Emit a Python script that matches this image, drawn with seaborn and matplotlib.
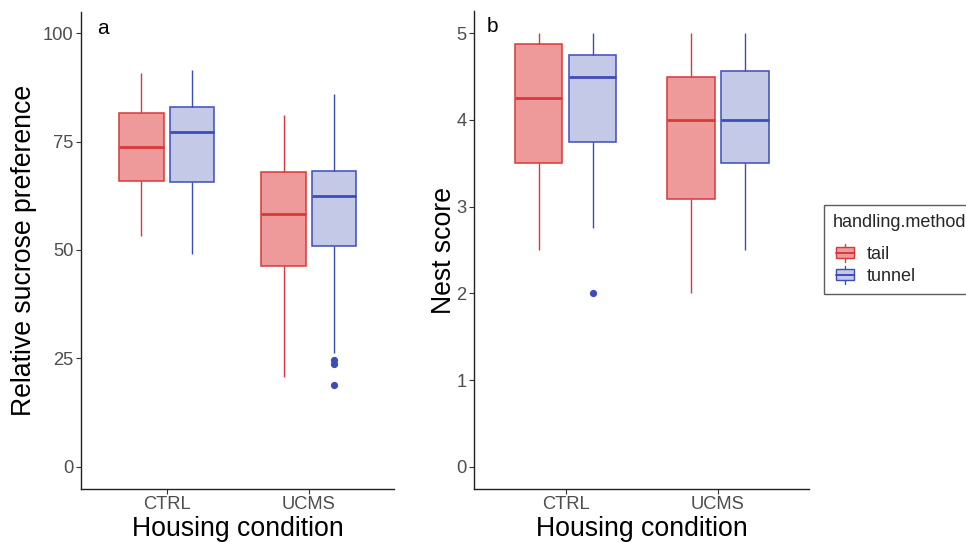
import numpy as np
import pandas as pd
import matplotlib
matplotlib.use("Agg")
import matplotlib.pyplot as plt
from matplotlib.legend_handler import HandlerBase
from matplotlib.patches import Rectangle
from matplotlib.lines import Line2D
import seaborn as sns

# ---- data: box summaries per group (CTRL-tail, CTRL-tunnel, UCMS-tail, UCMS-tunnel)
housing = ["CTRL", "CTRL", "UCMS", "UCMS"]
method = ["tail", "tunnel", "tail", "tunnel"]
housing_levels = ["CTRL", "UCMS"]
method_levels = ["tail", "tunnel"]

sucrose_whislo = [53.3, 49.0, 20.8, 26.3]
sucrose_q1 = [65.9, 65.6, 46.2, 50.9]
sucrose_median = [73.8, 77.2, 58.3, 62.4]
sucrose_q3 = [81.7, 82.9, 68.0, 68.2]
sucrose_whishi = [90.8, 91.5, 81.2, 86.0]
sucrose_outliers = [[], [], [], [24.7, 23.7, 18.9]]

nest_whislo = [2.5, 2.75, 2.0, 2.5]
nest_q1 = [3.5, 3.75, 3.09, 3.5]
nest_median = [4.25, 4.5, 4.0, 4.0]
nest_q3 = [4.875, 4.75, 4.5, 4.5625]
nest_whishi = [5.0, 5.0, 5.0, 5.0]
nest_outliers = [[], [2.0], [], []]

sucrose_ticks = [0, 25, 50, 75, 100]
nest_ticks = [0, 1, 2, 3, 4, 5]

fill_colors = {"tail": "#EE9A9B", "tunnel": "#C5C9E8"}
edge_colors = {"tail": "#D8383B", "tunnel": "#3D4DB7"}

TICK_SIZE = 13.2
TITLE_SIZE = 19.2


def group_values(lo, q1, med, q3, hi, outs):
    """Observations whose quartiles and whisker ends equal the given summary."""
    below = sorted(o for o in outs if o < lo) + [lo]
    above = [hi] + sorted(o for o in outs if o > hi)
    k = max(len(below), len(above))
    vals = (below + [q1] * (k - len(below) + 1) + [med] * k + [q3] * k
            + [q3] * (k - len(above)) + above)
    return vals


def long_table(lo, q1, med, q3, hi, outs):
    rows = []
    for i in range(len(housing)):
        for v in group_values(lo[i], q1[i], med[i], q3[i], hi[i], outs[i]):
            rows.append({"housing": housing[i], "method": method[i], "value": v})
    return pd.DataFrame(rows)


sucrose_df = long_table(sucrose_whislo, sucrose_q1, sucrose_median,
                        sucrose_q3, sucrose_whishi, sucrose_outliers)
nest_df = long_table(nest_whislo, nest_q1, nest_median,
                     nest_q3, nest_whishi, nest_outliers)

sns.set_theme(style="white")
plt.rcParams["font.family"] = ["Liberation Sans", "DejaVu Sans"]

fig = plt.figure(figsize=(9.66, 5.42), dpi=100)
W, H = 966, 542


def axes_px(left, right, top, bottom):
    return fig.add_axes([left / W, (H - bottom) / H, (right - left) / W, (bottom - top) / H])


ax_a = axes_px(81.3, 394.3, 11.5, 488.5)
ax_b = axes_px(474.3, 809.3, 11.5, 488.5)


def draw_panel(ax, df, ylim, ticks, ylabel):
    sns.boxplot(data=df, x="housing", y="value", hue="method",
                order=housing_levels, hue_order=method_levels,
                palette=fill_colors, width=0.71, gap=0.12, whis=1.5,
                showcaps=False, saturation=1, legend=False, ax=ax,
                flierprops=dict(marker="o", markersize=4.2))
    for cont, m in zip(ax.containers, method_levels):
        ec = edge_colors[m]
        for b in cont.boxes:
            b.set_edgecolor(ec)
            b.set_facecolor(fill_colors[m])
            b.set_linewidth(1.1)
        for ln in cont.medians:
            ln.set_color(ec)
            ln.set_linewidth(2.0)
        for ln in cont.whiskers:
            ln.set_color(ec)
            ln.set_linewidth(1.0)
        for ln in cont.fliers:
            ln.set_markerfacecolor(ec)
            ln.set_markeredgecolor(ec)
    ax.set_xlim(-0.6, 1.6)
    ax.set_ylim(*ylim)
    ax.set_yticks(ticks)
    ax.set_yticklabels([str(t) for t in ticks])
    ax.set_xlabel("Housing condition", fontsize=TITLE_SIZE, color="black", labelpad=1.8)
    ax.set_ylabel(ylabel, fontsize=TITLE_SIZE, color="black")
    ax.tick_params(axis="both", which="both", length=3.5, width=0.8,
                   color="#333333", labelsize=TICK_SIZE, labelcolor="#4D4D4D",
                   left=True, bottom=True, pad=2)
    for side in ["top", "right"]:
        ax.spines[side].set_visible(False)
    for side in ["left", "bottom"]:
        ax.spines[side].set_color("#222222")
        ax.spines[side].set_linewidth(1.0)
    ax.set_facecolor("white")
    ax.grid(False)


draw_panel(ax_a, sucrose_df, (-5, 105), sucrose_ticks, "Relative sucrose preference")
draw_panel(ax_b, nest_df, (-0.25, 5.25), nest_ticks, "Nest score")
ax_a.yaxis.set_label_coords(-0.142, 0.5)
ax_b.yaxis.set_label_coords(-0.052, 0.5)

fig.text(97 / W, 1 - 28 / H, "a", fontsize=15, ha="left", va="center", color="black")
fig.text(487 / W, 1 - 27 / H, "b", fontsize=15, ha="left", va="center", color="black")


class BoxKeyHandler(HandlerBase):
    def create_artists(self, legend, orig_handle, xdescent, ydescent,
                       width, height, fontsize, trans):
        fc, ec = orig_handle
        bw = width * 0.75
        x0 = -xdescent + (width - bw) / 2
        y0 = -ydescent
        hh = height
        rect = Rectangle((x0, y0 + hh * 0.2), bw, hh * 0.6,
                         facecolor=fc, edgecolor=ec, linewidth=1.0, transform=trans)
        mid = Line2D([x0, x0 + bw], [y0 + hh / 2] * 2, color=ec, lw=1.4, transform=trans)
        xc = x0 + bw / 2
        top = Line2D([xc, xc], [y0 + hh * 0.8, y0 + hh * 1.0], color=ec, lw=1.0, transform=trans)
        bot = Line2D([xc, xc], [y0, y0 + hh * 0.2], color=ec, lw=1.0, transform=trans)
        return [rect, mid, top, bot]


handles = [(fill_colors[m], edge_colors[m]) for m in method_levels]
leg = fig.legend(handles, method_levels, handler_map={tuple: BoxKeyHandler()},
                 title="handling.method", loc="upper left",
                 bbox_to_anchor=(824 / W, 1 - 205 / H), frameon=True,
                 fontsize=13, title_fontsize=13, handlelength=1.3, handleheight=1.2,
                 handletextpad=0.55, labelspacing=0.15, borderpad=0.5,
                 borderaxespad=0, fancybox=False, alignment="left")
# extra room between the legend title and its entries
leg._legend_box.sep = 9
leg.get_frame().set_edgecolor("#333333")
leg.get_frame().set_linewidth(1.0)

fig.savefig("out.png", dpi=100, facecolor="white")
